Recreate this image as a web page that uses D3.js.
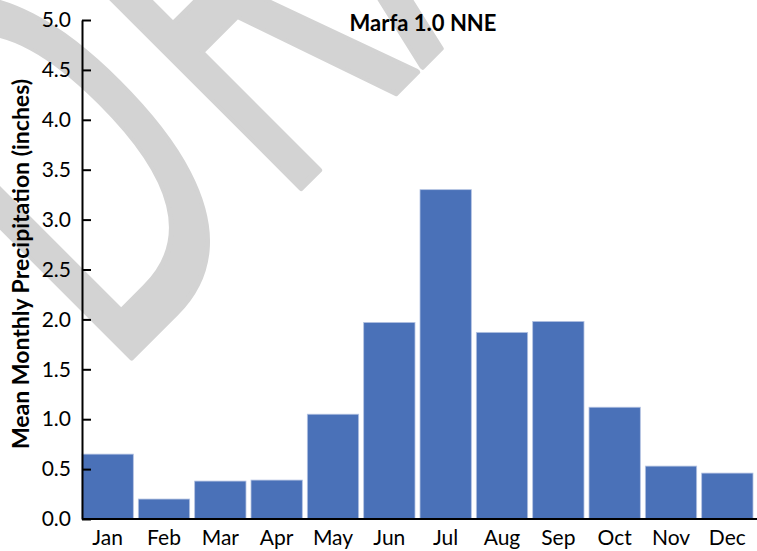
<!DOCTYPE html>
<html>
<head>
<meta charset="utf-8">
<script src="https://cdn.jsdelivr.net/npm/d3@7"></script>
<style>
  body { margin: 0; background: #fff; }
  text { font-family: Lato, "DejaVu Sans", sans-serif; }
</style>
</head>
<body>
<div id="chart"></div>
<script>
// data
var months = ["Jan", "Feb", "Mar", "Apr", "May", "Jun", "Jul", "Aug", "Sep", "Oct", "Nov", "Dec"];
var precip = [0.65, 0.20, 0.38, 0.39, 1.05, 1.97, 3.30, 1.87, 1.98, 1.12, 0.53, 0.46];
var yTicks = [0.0, 0.5, 1.0, 1.5, 2.0, 2.5, 3.0, 3.5, 4.0, 4.5, 5.0];
var chartTitle = "Marfa 1.0 NNE";
var yTitle = "Mean Monthly Precipitation (inches)";
var watermark = "DRAFT";

var width = 757, height = 551,
    margin = {top: 20, right: 4, bottom: 32, left: 82};

var svg = d3.select("#chart").append("svg")
    .attr("width", width)
    .attr("height", height);

// grey watermark behind everything
svg.append("text")
    .attr("transform", "translate(108,381) rotate(-45) scale(0.59,1)")
    .style("font-family", "'Open Sans', sans-serif")
    .style("font-size", "560px")
    .attr("fill", "#d3d3d3")
    .attr("stroke", "#d3d3d3")
    .attr("stroke-width", 6)
    .attr("stroke-linejoin", "round")
    .text(watermark);

var x = d3.scaleBand()
    .domain(months)
    .range([margin.left, width - margin.right])
    .paddingInner(0.089)
    .paddingOuter(0)
    .align(0);

var y = d3.scaleLinear()
    .domain([0, 5])
    .range([height - margin.bottom, margin.top]);

// bars
svg.append("g")
  .selectAll("rect")
  .data(precip)
  .enter().append("rect")
    .attr("x", function(d, i) { return x(months[i]); })
    .attr("y", function(d) { return y(d); })
    .attr("width", x.bandwidth())
    .attr("height", function(d) { return y(0) - y(d); })
    .attr("fill", "#4a71b8")
    .attr("stroke", "#b4c3e2")
    .attr("stroke-width", 0.8);

// x axis
var gx = svg.append("g")
    .attr("transform", "translate(0," + y(0) + ")")
    .call(d3.axisBottom(x).tickSize(0).tickPadding(11));
gx.select(".domain")
    .attr("d", "M" + margin.left + ",0H" + width)
    .attr("stroke", "#000")
    .attr("stroke-width", 2);
gx.selectAll("text")
    .attr("fill", "#000")
    .style("font-size", "21px");
gx.attr("font-family", null);

// y axis, ticks point into the plot
var gy = svg.append("g")
    .attr("transform", "translate(" + margin.left + ",0)")
    .call(d3.axisLeft(y)
        .tickValues(yTicks)
        .tickFormat(d3.format(".1f"))
        .tickSizeInner(-9)
        .tickSizeOuter(0)
        .tickPadding(11));
gy.attr("font-family", null);
gy.select(".domain").attr("stroke", "#000").attr("stroke-width", 2);
gy.selectAll(".tick line").attr("stroke", "#000").attr("stroke-width", 2);
gy.selectAll("text")
    .attr("fill", "#000")
    .style("font-size", "21px");

// title
svg.append("text")
    .attr("x", 423)
    .attr("y", 31)
    .attr("text-anchor", "middle")
    .style("font-size", "22px")
    .style("font-weight", "bold")
    .text(chartTitle);

// y axis title
svg.append("text")
    .attr("transform", "translate(28.5,264) rotate(-90)")
    .attr("text-anchor", "middle")
    .style("font-size", "23px")
    .style("font-weight", "bold")
    .text(yTitle);
</script>
</body>
</html>
